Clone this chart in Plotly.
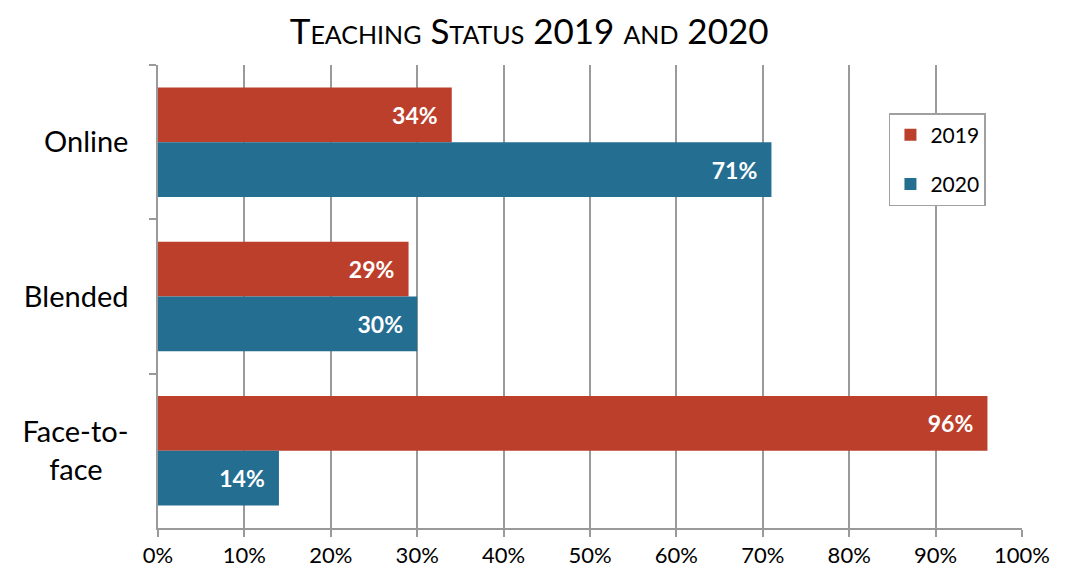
import plotly.graph_objects as go

categories = ["Online", "Blended", "Face-to-<br>face\u00a0\u00a0\u00a0\u2009"]
years = ["2019", "2020"]
values_2019 = [0.34, 0.29, 0.96]
values_2020 = [0.71, 0.30, 0.14]
x_ticks = [i / 10 for i in range(11)]

colors = {"2019": "#BC3F2B", "2020": "#246E92"}
font_family = "Lato, 'Open Sans', sans-serif"
pad = "\u00a0\u00a0"

fig = go.Figure()
for year, vals in zip(years, [values_2019, values_2020]):
    fig.add_trace(go.Bar(
        name=year,
        legendgroup=year,
        y=categories,
        x=vals,
        orientation="h",
        marker=dict(color=colors[year], line=dict(width=0)),
        text=[f"{round(v * 100)}%{pad}" for v in vals],
        textposition="inside",
        insidetextanchor="end",
        textfont=dict(color="white", size=23, family=font_family, weight="bold"),
        hoverinfo="skip",
    ))

# page body has an 8px margin, so margins are trimmed by 8
fig.update_layout(
    width=1079,
    height=575,
    barmode="group",
    bargap=0.29,
    bargroupgap=0,
    plot_bgcolor="white",
    paper_bgcolor="white",
    margin=dict(l=150, r=65, t=57, b=55),
    font=dict(family=font_family, color="black"),
    title=dict(
        text="Teaching Status 2019 and 2020",
        font=dict(size=35, variant="small-caps", color="black"),
        x=0.483, xanchor="center", y=0.958, yanchor="middle",
    ),
    legend=dict(
        x=0.846, y=0.896, xanchor="left", yanchor="top",
        bordercolor="#A0A0A0", borderwidth=1.5, bgcolor="white",
        font=dict(size=21),
        traceorder="grouped",
        itemwidth=30,
        tracegroupgap=19,
    ),
    showlegend=True,
)

fig.update_xaxes(
    range=[0, 1],
    tickvals=x_ticks,
    tickformat=".0%",
    tickfont=dict(size=22),
    showgrid=True, gridcolor="#9A9A9A", gridwidth=1.5,
    showline=True, linecolor="#9A9A9A", linewidth=1.5,
    ticks="outside", ticklen=7, tickcolor="#9A9A9A", tickwidth=1.5,
    zeroline=False, automargin=False,
)
fig.update_yaxes(
    categoryorder="array", categoryarray=categories,
    autorange="reversed",
    tickfont=dict(size=29),
    showline=True, linecolor="#9A9A9A", linewidth=1.5,
    ticks="outside", ticklen=7, tickcolor="#9A9A9A", tickwidth=1.5,
    tickson="boundaries",
    showgrid=False, automargin=False,
    ticklabelstandoff=22,
)

fig.write_html("out.html")
